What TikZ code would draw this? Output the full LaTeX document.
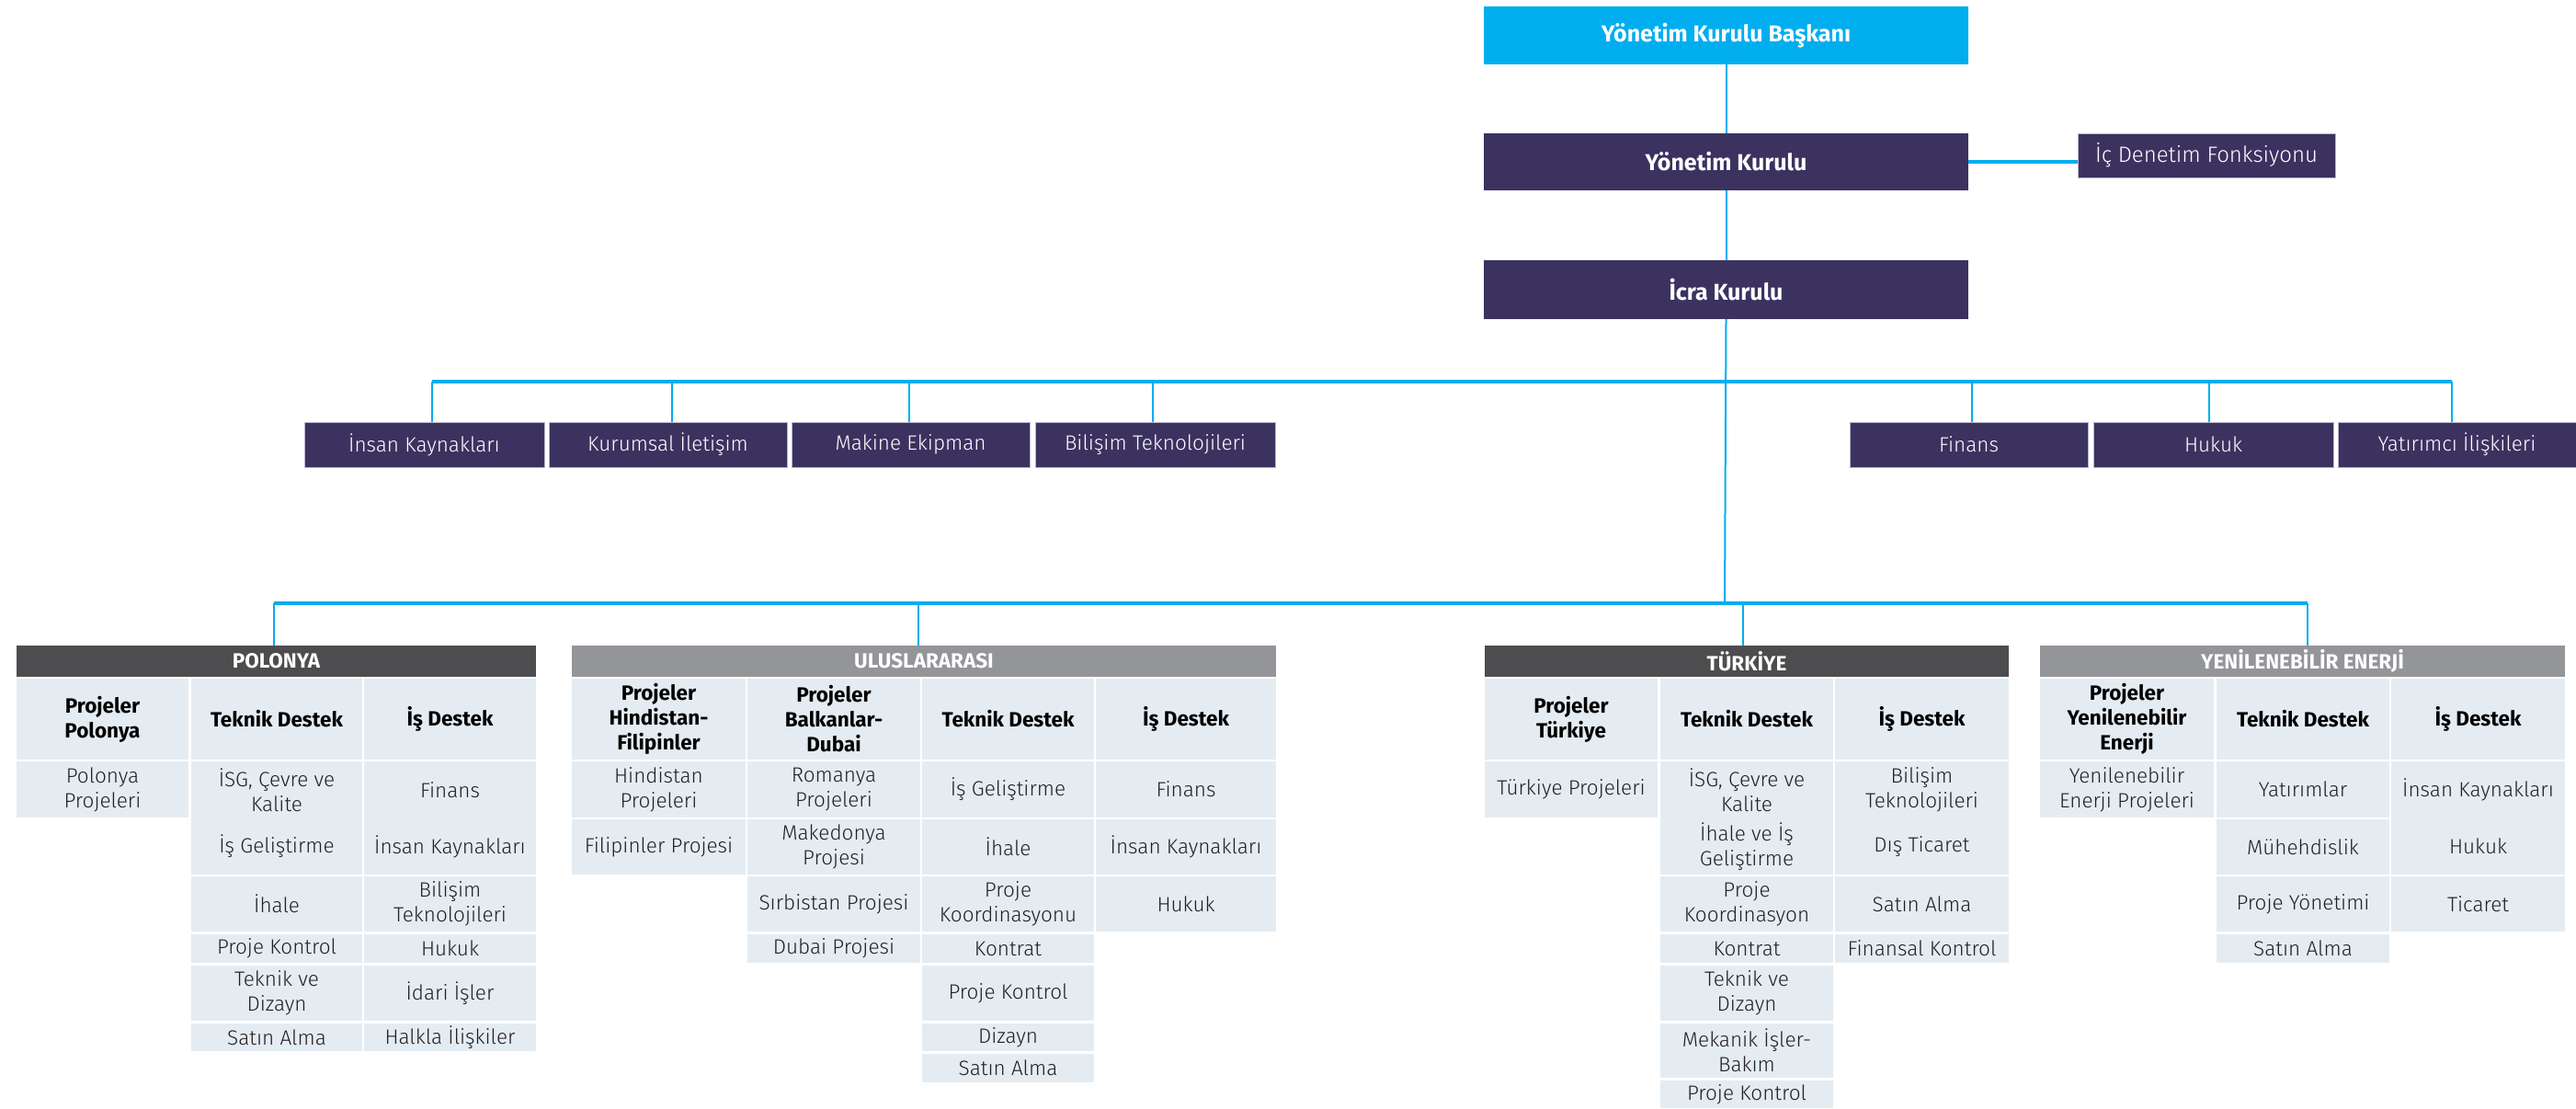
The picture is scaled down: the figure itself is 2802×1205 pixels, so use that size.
\documentclass[tikz,border=0pt]{standalone}
\usepackage{fontspec}
\setmainfont{Fira Sans}[UprightFont={* Light}, BoldFont={* Bold}]
\definecolor{chartcyan}{RGB}{0,174,239}
\definecolor{chartpurple}{RGB}{60,50,96}
\definecolor{boxedge}{RGB}{185,180,204}
\definecolor{bardark}{RGB}{77,77,79}
\definecolor{barlight}{RGB}{147,149,152}
\definecolor{cellbg}{RGB}{228,236,242}
\definecolor{celltext}{RGB}{35,31,32}
\tikzset{
  box-base/.style={inner sep=0pt, align=center, font=\fontsize{22.5}{27}\selectfont},
  box-chair/.style={box-base, fill=chartcyan, text=white, font=\fontsize{25}{30}\selectfont\bfseries},
  box-board/.style={box-base, fill=chartpurple, text=white, font=\fontsize{25}{30}\selectfont\bfseries},
  box-unit/.style={box-base, fill=chartpurple, draw=boxedge, line width=1pt, text=white},
  bar-dark/.style={box-base, fill=bardark, text=white, font=\fontsize{22.5}{27}\selectfont\bfseries},
  bar-light/.style={box-base, fill=barlight, text=white, font=\fontsize{22.5}{27}\selectfont\bfseries},
  cell-head/.style={box-base, fill=cellbg, text=black, font=\fontsize{22.5}{27}\selectfont\bfseries},
  cell-item/.style={box-base, fill=cellbg, text=celltext},
  link/.style={chartcyan, line width=2pt},
  bus/.style={chartcyan, line width=3.5pt}
}
% style, name, left, top, right, bottom, text
\newcommand{\cellbox}[7]{
  \node[#1, minimum width={(#5-#3)*1pt}, minimum height={(#6-#4)*1pt}] (#2) at ({(#3+#5)/2},{(#4+#6)/2}) {#7};
}

\begin{document}
\begin{tikzpicture}[x=1pt, y=-1pt]
  \useasboundingbox (0,0) rectangle (2802,1205);

  % top of the chart
  \cellbox{box-chair}{chair}{1614}{7}{2141}{70}{Yönetim Kurulu Başkanı}
  \cellbox{box-board}{board}{1614}{145}{2141}{207}{Yönetim Kurulu}
  \cellbox{box-unit, font=\fontsize{24}{29}\selectfont}{audit}{2260}{145}{2540}{193}{İç Denetim Fonksiyonu}
  \cellbox{box-board}{exec}{1614}{283}{2141}{347}{İcra Kurulu}

  \draw[link] (chair.south) -- (board.north);
  \draw[link] (board.south) -- (exec.north);
  \draw[bus] (board.east) -- (board.east -| audit.west);

  % staff units
  \cellbox{box-unit}{hr}{331}{459}{592}{508}{İnsan Kaynakları}
  \cellbox{box-unit}{comm}{597}{459}{856}{508}{Kurumsal İletişim}
  \cellbox{box-unit}{mach}{861}{459}{1120}{508}{Makine Ekipman}
  \cellbox{box-unit}{it}{1126}{459}{1387}{508}{Bilişim Teknolojileri}
  \cellbox{box-unit}{fin}{2012}{459}{2271}{508}{Finans}
  \cellbox{box-unit}{law}{2277}{459}{2538}{508}{Hukuk}
  \cellbox{box-unit}{ir}{2543}{459}{2802}{508}{Yatırımcı İlişkileri}

  \coordinate (upper-bus) at (1876,415);
  \coordinate (lower-bus) at (1876,656);
  \draw[link] (exec.south) -- (lower-bus);
  \draw[bus] ([xshift=8pt]hr.north |- upper-bus) -- ([xshift=-6pt]ir.north |- upper-bus);
  \foreach \u/\dx in {hr/8,comm/4,mach/-2,it/-3,fin/3,law/-5,ir/-6}
    \draw[link] ([xshift=\dx pt]\u.north |- upper-bus) -- ([xshift=\dx pt]\u.north);

  % regions
  \cellbox{bar-dark}{pl-bar}{18}{702}{583}{736}{POLONYA}
  \cellbox{bar-light}{ul-bar}{622}{702}{1388}{736}{ULUSLARARASI}
  \cellbox{bar-dark}{tr-bar}{1615}{702}{2185}{736}{TÜRKİYE}
  \cellbox{bar-light}{re-bar}{2219}{702}{2790}{736}{YENİLENEBİLİR ENERJİ}

  \draw[bus] ([xshift=-3pt]pl-bar.north |- lower-bus) -- ([xshift=5pt]re-bar.north |- lower-bus);
  \foreach \r/\dx in {pl/-3,ul/-6,tr/-4,re/5}
    \draw[link] ([xshift=\dx pt]\r-bar.north |- lower-bus) -- ([xshift=\dx pt]\r-bar.north);

  % Polonya
  \cellbox{cell-head}{pl-h1}{18}{738}{205}{826}{Projeler\\Polonya}
  \cellbox{cell-head}{pl-h2}{208}{738}{394}{826}{Teknik Destek}
  \cellbox{cell-head}{pl-h3}{396}{738}{583}{826}{İş Destek}
  \cellbox{cell-item}{pl-1a}{18}{828}{205}{889}{Polonya\\Projeleri}
  \cellbox{cell-item}{pl-2a}{208}{828}{394}{890}{İSG, Çevre ve\\Kalite}
  \cellbox{cell-item}{pl-2b}{208}{890}{394}{951}{İş Geliştirme}
  \cellbox{cell-item}{pl-2c}{208}{953}{394}{1013}{İhale}
  \cellbox{cell-item}{pl-2d}{208}{1016}{394}{1047}{Proje Kontrol}
  \cellbox{cell-item}{pl-2e}{208}{1050}{394}{1110}{Teknik ve\\Dizayn}
  \cellbox{cell-item}{pl-2f}{208}{1113}{394}{1143}{Satın Alma}
  \cellbox{cell-item}{pl-3a}{396}{828}{583}{890}{Finans}
  \cellbox{cell-item}{pl-3b}{396}{890}{583}{951}{İnsan Kaynakları}
  \cellbox{cell-item}{pl-3c}{396}{953}{583}{1013}{Bilişim\\Teknolojileri}
  \cellbox{cell-item}{pl-3d}{396}{1016}{583}{1047}{Hukuk}
  \cellbox{cell-item}{pl-3e}{396}{1050}{583}{1110}{İdari İşler}
  \cellbox{cell-item}{pl-3f}{396}{1113}{583}{1143}{Halkla İlişkiler}

  % Uluslararasi
  \cellbox{cell-head}{ul-h1}{622}{738}{811}{826}{Projeler\\Hindistan-\\Filipinler}
  \cellbox{cell-head}{ul-h2}{813}{738}{1001}{826}{Projeler\\Balkanlar-\\Dubai}
  \cellbox{cell-head}{ul-h3}{1003}{738}{1190}{826}{Teknik Destek}
  \cellbox{cell-head}{ul-h4}{1192}{738}{1388}{826}{İş Destek}
  \cellbox{cell-item}{ul-1a}{622}{828}{811}{889}{Hindistan\\Projeleri}
  \cellbox{cell-item}{ul-1b}{622}{891}{811}{951}{Filipinler Projesi}
  \cellbox{cell-item}{ul-2a}{813}{828}{1001}{889}{Romanya\\Projeleri}
  \cellbox{cell-item}{ul-2b}{813}{891}{1001}{951}{Makedonya\\Projesi}
  \cellbox{cell-item}{ul-2c}{813}{953}{1001}{1013}{Sırbistan Projesi}
  \cellbox{cell-item}{ul-2d}{813}{1016}{1001}{1047}{Dubai Projesi}
  \cellbox{cell-item}{ul-3a}{1003}{828}{1190}{889}{İş Geliştirme}
  \cellbox{cell-item}{ul-3b}{1003}{891}{1190}{951}{İhale}
  \cellbox{cell-item}{ul-3c}{1003}{953}{1190}{1013}{Proje\\Koordinasyonu}
  \cellbox{cell-item}{ul-3d}{1003}{1016}{1190}{1047}{Kontrat}
  \cellbox{cell-item}{ul-3e}{1003}{1050}{1190}{1110}{Proje Kontrol}
  \cellbox{cell-item}{ul-3f}{1003}{1113}{1190}{1143}{Dizayn}
  \cellbox{cell-item}{ul-3g}{1003}{1146}{1190}{1177}{Satın Alma}
  \cellbox{cell-item}{ul-4a}{1192}{828}{1388}{889}{Finans}
  \cellbox{cell-item}{ul-4b}{1192}{891}{1388}{951}{İnsan Kaynakları}
  \cellbox{cell-item}{ul-4c}{1192}{953}{1388}{1013}{Hukuk}

  % Turkiye
  \cellbox{cell-head}{tr-h1}{1615}{738}{1803}{826}{Projeler\\Türkiye}
  \cellbox{cell-head}{tr-h2}{1806}{738}{1994}{826}{Teknik Destek}
  \cellbox{cell-head}{tr-h3}{1996}{738}{2185}{826}{İş Destek}
  \cellbox{cell-item}{tr-1a}{1615}{828}{1803}{889}{Türkiye Projeleri}
  \cellbox{cell-item}{tr-2a}{1806}{828}{1994}{890}{İSG, Çevre ve\\Kalite}
  \cellbox{cell-item}{tr-2b}{1806}{890}{1994}{951}{İhale ve İş\\Geliştirme}
  \cellbox{cell-item}{tr-2c}{1806}{953}{1994}{1013}{Proje\\Koordinasyon}
  \cellbox{cell-item}{tr-2d}{1806}{1016}{1994}{1047}{Kontrat}
  \cellbox{cell-item}{tr-2e}{1806}{1050}{1994}{1110}{Teknik ve\\Dizayn}
  \cellbox{cell-item}{tr-2f}{1806}{1113}{1994}{1172}{Mekanik İşler-\\Bakım}
  \cellbox{cell-item}{tr-2g}{1806}{1175}{1994}{1205}{Proje Kontrol}
  \cellbox{cell-item}{tr-3a}{1996}{828}{2185}{890}{Bilişim\\Teknolojileri}
  \cellbox{cell-item}{tr-3b}{1996}{890}{2185}{951}{Dış Ticaret}
  \cellbox{cell-item}{tr-3c}{1996}{953}{2185}{1013}{Satın Alma}
  \cellbox{cell-item}{tr-3d}{1996}{1016}{2185}{1047}{Finansal Kontrol}

  % Yenilenebilir enerji
  \cellbox{cell-head}{re-h1}{2219}{738}{2408}{826}{Projeler\\Yenilenebilir\\Enerji}
  \cellbox{cell-head}{re-h2}{2411}{738}{2599}{826}{Teknik Destek}
  \cellbox{cell-head}{re-h3}{2601}{738}{2790}{826}{İş Destek}
  \cellbox{cell-item}{re-1a}{2219}{828}{2408}{889}{Yenilenebilir\\Enerji Projeleri}
  \cellbox{cell-item}{re-2a}{2411}{828}{2599}{889}{Yatırımlar}
  \cellbox{cell-item}{re-2b}{2411}{891}{2599}{951}{Mühehdislik}
  \cellbox{cell-item}{re-2c}{2411}{953}{2599}{1013}{Proje Yönetimi}
  \cellbox{cell-item}{re-2d}{2411}{1016}{2599}{1047}{Satın Alma}
  \cellbox{cell-item}{re-3a}{2601}{828}{2790}{890}{İnsan Kaynakları}
  \cellbox{cell-item}{re-3b}{2601}{890}{2790}{951}{Hukuk}
  \cellbox{cell-item}{re-3c}{2601}{953}{2790}{1013}{Ticaret}
\end{tikzpicture}
\end{document}
